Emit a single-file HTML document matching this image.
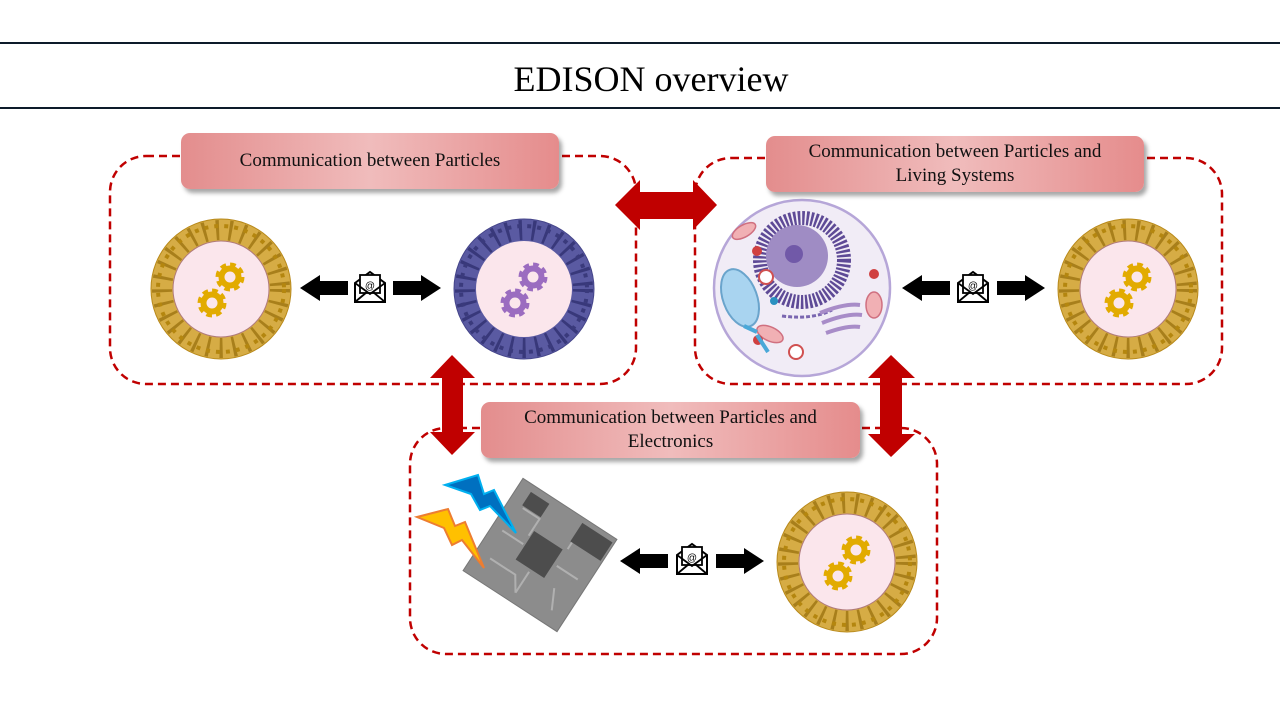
<!DOCTYPE html>
<html><head><meta charset="utf-8"><style>
html,body{margin:0;padding:0;background:#fff;width:1280px;height:720px;overflow:hidden}
.lbl{position:absolute;border-radius:9px;background:linear-gradient(90deg,#e38d8d 0%,#f0bcbc 50%,#e58c8c 100%);box-shadow:3px 4px 4px rgba(0,0,0,.35);font-family:"Liberation Serif",serif;font-size:19px;color:#111;text-align:center;display:flex;align-items:center;justify-content:center;line-height:24px}
</style></head><body>
<svg width="1280" height="720" style="position:absolute;left:0;top:0">
<defs>
<g id="env">
<path d="M-15,-4 L0,-15 L15,-4 L15,15 L-15,15 Z" fill="#fff" stroke="#000" stroke-width="2"/>
<rect x="-10" y="-12" width="20" height="18" fill="#fff" stroke="#000" stroke-width="1.8"/>
<text x="0" y="2" font-family="Liberation Sans,sans-serif" font-size="10" text-anchor="middle">@</text>
<path d="M-15,-4 L0,7 L15,-4 M-15,15 L-3,5 M15,15 L3,5" fill="none" stroke="#000" stroke-width="1.8"/>
</g>
<path id="bl" d="M0,0 L20,-13 L20,-7 L48,-7 L48,7 L20,7 L20,13 Z" fill="#000"/>
<g id="gear"><circle r="11" fill="none" stroke="currentColor" stroke-width="7" stroke-dasharray="5 3.6"/><circle r="8.5" fill="none" stroke="currentColor" stroke-width="6"/></g>
<g id="ringG">
<circle r="70" fill="#d6ac45" stroke="#b8891a" stroke-width="1"/>
<circle r="59" fill="none" stroke="#9c7410" stroke-width="20" stroke-dasharray="3 10" opacity=".8"/>
<circle r="63" fill="none" stroke="#b4860f" stroke-width="4" stroke-dasharray="4 6"/>
<circle r="48" fill="#fbe6ec" stroke="#b07a7a" stroke-width="1"/>
<g color="#e2ab00"><use href="#gear" x="9" y="-12"/><use href="#gear" x="-9" y="14"/></g>
</g>
<g id="ringB">
<circle r="70" fill="#5a5aa2" stroke="#45458a" stroke-width="1"/>
<circle r="59" fill="none" stroke="#303070" stroke-width="20" stroke-dasharray="3 10" opacity=".8"/>
<circle r="63" fill="none" stroke="#3a3a7c" stroke-width="4" stroke-dasharray="4 6"/>
<circle r="48" fill="#fbe6ec"/>
<g color="#9b6cc0"><use href="#gear" x="9" y="-12"/><use href="#gear" x="-9" y="14"/></g>
</g>
</defs>
<line x1="0" y1="43" x2="1280" y2="43" stroke="#0d1b2a" stroke-width="2"/>
<line x1="0" y1="108" x2="1280" y2="108" stroke="#0d1b2a" stroke-width="2"/>
<text x="651" y="91" font-family="Liberation Serif,serif" font-size="36" text-anchor="middle">EDISON overview</text>
<g fill="none" stroke="#c00000" stroke-width="2.5" stroke-dasharray="8 5">
<rect x="110" y="156" width="526" height="228" rx="36"/>
<rect x="695" y="158" width="527" height="226" rx="36"/>
<rect x="410" y="428" width="527" height="226" rx="36"/>
</g>
<use href="#ringG" x="221" y="289"/>
<use href="#ringB" x="524" y="289"/>
<use href="#ringG" x="1128" y="289"/>
<use href="#ringG" x="847" y="562"/>
<g transform="translate(802,288)">
<circle r="88" fill="#f1ecf6" stroke="#b6a6d8" stroke-width="2.5"/>
<circle cx="0" cy="-28" r="42" fill="none" stroke="#5e4a96" stroke-width="14" stroke-dasharray="2.5 1.8"/>
<circle cx="-5" cy="-32" r="31" fill="#9f8cc4"/>
<circle cx="-8" cy="-34" r="9" fill="#7159a8"/>
<g fill="none" stroke="#7a66b0" stroke-width="3" stroke-dasharray="4 2"><path d="M-20,28 q30,4 50,-6"/></g>
<ellipse cx="-62" cy="10" rx="17" ry="30" transform="rotate(-20 -62 10)" fill="#a9d4f0" stroke="#6aa4cc" stroke-width="2"/>
<g fill="none" stroke="#a88cc8" stroke-width="4"><path d="M18,25 q25,-10 40,-8 M20,35 q25,-10 40,-8 M24,45 q22,-8 34,-6"/></g>
<g fill="#f1b0b4" stroke="#d07080" stroke-width="1.5"><ellipse cx="-58" cy="-57" rx="13" ry="6" transform="rotate(-30 -58 -57)"/><ellipse cx="-32" cy="46" rx="14" ry="7" transform="rotate(25 -32 46)"/><ellipse cx="72" cy="17" rx="8" ry="13"/></g>
<g fill="#fff" stroke="#d05050" stroke-width="2"><circle cx="-36" cy="-11" r="7"/><circle cx="-6" cy="64" r="7"/></g>
<g fill="#d04040"><circle cx="-45" cy="-37" r="5"/><circle cx="-44" cy="52" r="5"/><circle cx="72" cy="-14" r="5"/></g>
<g stroke="#4aa8d8" stroke-width="4"><line x1="-58" y1="38" x2="-45" y2="44"/><line x1="-45" y1="47" x2="-34" y2="64"/></g>
<circle cx="-28" cy="13" r="4" fill="#2a90c0"/>
</g>
<g transform="translate(540,555) rotate(33)">
<rect x="-56" y="-55" width="112" height="110" fill="#8c8c8c" stroke="#777"/>
<g stroke="#b0b0b0" stroke-width="2" fill="none"><path d="M-40,-30 L-20,-30 L-20,-10 M30,20 L40,40 M-40,30 L-10,30 L0,45 M20,-40 L20,-20 M-45,0 L-20,0 M20,0 L45,0 M0,20 L0,45"/></g>
<rect x="-18" y="-17" width="34" height="34" fill="#4d4d4d"/>
<rect x="-42" y="-48" width="22" height="16" fill="#4d4d4d"/>
<rect x="18" y="-50" width="36" height="22" fill="#4d4d4d"/>
</g>
<path d="M417,517 L448,509 L455,526 L465,522 L484,568 L462,540 L452,545 L444,528 Z" fill="#ffc000" stroke="#ed7d31" stroke-width="2"/>
<path d="M445,485 L478,475 L484,494 L494,490 L516,533 L490,506 L480,510 L471,494 Z" fill="#0070c0" stroke="#00b0f0" stroke-width="2"/>
<use href="#bl" x="300" y="288"/><use href="#env" x="370" y="287"/><use href="#bl" transform="translate(441,288) scale(-1,1)"/>
<use href="#bl" x="902" y="288"/><use href="#env" x="973" y="287"/><use href="#bl" transform="translate(1045,288) scale(-1,1)"/>
<use href="#bl" x="620" y="561"/><use href="#env" x="692" y="559"/><use href="#bl" transform="translate(764,561) scale(-1,1)"/>
<path d="M615,205 L640,180 L640,192 L693,192 L693,180 L717,205 L693,230 L693,219 L640,219 L640,230 Z" fill="#c00000"/>
<path d="M452,355 L475,378 L463,378 L463,432 L475,432 L452,455 L430,432 L442,432 L442,378 L430,378 Z" fill="#c00000"/>
<path d="M891,355 L915,378 L902,378 L902,434 L915,434 L891,457 L868,434 L880,434 L880,378 L868,378 Z" fill="#c00000"/>
</svg>
<div class="lbl" style="left:181px;top:133px;width:378px;height:56px">Communication between Particles</div>
<div class="lbl" style="left:766px;top:136px;width:378px;height:56px">Communication between Particles and<br>Living Systems</div>
<div class="lbl" style="left:481px;top:402px;width:379px;height:56px">Communication between Particles and<br>Electronics</div>
</body></html>
